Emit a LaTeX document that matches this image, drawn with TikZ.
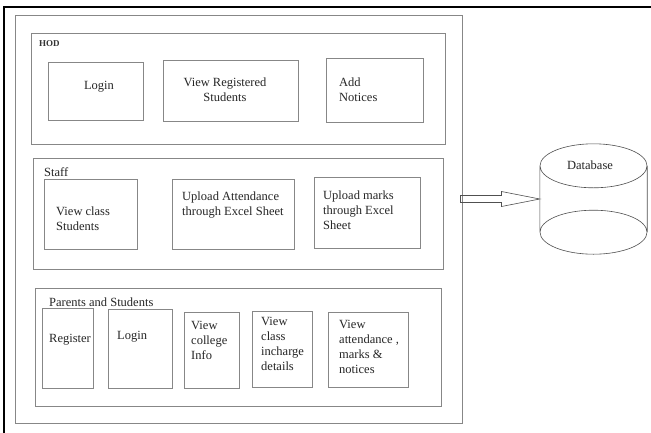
\documentclass[tikz,border=0pt]{standalone}
\usepackage{fontspec}
\setmainfont{Liberation Serif}
\usetikzlibrary{calc}
\definecolor{boxgray}{RGB}{135,135,135}
\definecolor{linegray}{RGB}{80,80,80}
\begin{document}
\begin{tikzpicture}[x=1pt,y=-1pt,
  box/.style={draw=boxgray, line width=1pt, inner sep=0pt},
  lbl/.style={inner sep=0pt, font=\fontsize{12.5}{15}\selectfont, text=black!85},
  lbll/.style={lbl, anchor=west, align=left},
  lblc/.style={lbl, align=center}]
\useasboundingbox (0,0) rectangle (651,432);
\fill[white] (0,0) rectangle (651,432);
% black frame
\draw[line width=2.5pt] (4,440) -- (4,7) -- (660,7);
% outer box
\node[box, minimum width=447pt, minimum height=408pt] (outer) at (238.5,219) {};
% HOD
\node[box, minimum width=414pt, minimum height=111pt] (hod) at (238,88.5) {};
\node[inner sep=0pt, anchor=west, font=\fontsize{9}{10}\selectfont\bfseries, text=black!80] (hodl) at (39,44) {HOD};
\node[box, minimum width=95pt, minimum height=58pt] (hlogin) at (95.5,91) {};
\node[lblc] (hlogint) at (99,87) {Login};
\node[box, minimum width=135pt, minimum height=61pt] (hview) at (230.5,90.5) {};
\node[lblc] (hviewt) at (225,90) {View Registered\\Students};
\node[box, minimum width=97pt, minimum height=64pt] (hadd) at (374.5,90) {};
\node[lbll] (haddt) at (339,90) {Add\\Notices};
% Staff
\node[box, minimum width=410pt, minimum height=111pt] (staff) at (238,213.5) {};
\node[lbll] (staffl) at (44,172) {Staff};
\node[box, minimum width=93pt, minimum height=70pt] (sview) at (90.5,214) {};
\node[lbll] (sviewt) at (56,218.5) {View class\\Students};
\node[box, minimum width=122pt, minimum height=70pt] (satt) at (233,214) {};
\node[lbll] (sattt) at (182,205.5) {Upload Attendance\\through Excel Sheet};
\node[box, minimum width=106pt, minimum height=71pt] (smarks) at (367,212.5) {};
\node[lbll] (smarkst) at (323,210.5) {Upload marks\\through Excel\\Sheet};
% Parents and Students
\node[box, minimum width=406pt, minimum height=118pt] (ps) at (238,347) {};
\node[lbll] (psl) at (49,302) {Parents and Students};
\node[box, minimum width=51pt, minimum height=80pt] (preg) at (67.5,348) {};
\node[lbll] (pregt) at (49,340) {Register};
\node[box, minimum width=64pt, minimum height=79pt] (plogin) at (140,348.5) {};
\node[lbll] (plogint) at (117,337) {Login};
\node[box, minimum width=55pt, minimum height=76pt] (pcol) at (211.5,350) {};
\node[lbll] (pcolt) at (191,340) {View\\college\\Info};
\node[box, minimum width=60pt, minimum height=76pt] (pcls) at (282,349) {};
\node[lbll] (pclst) at (261,344) {View\\class\\incharge\\details};
\node[box, minimum width=80pt, minimum height=75pt] (patt) at (368,349.5) {};
\node[lbll] (pattt) at (339,347) {View\\attendance ,\\marks \&\\notices};
% Database
\node[inner sep=0pt, minimum width=107pt, minimum height=66pt] (db) at (593.5,199) {};
\draw[linegray, line width=0.6pt]
  (db.north) ellipse [x radius=53.5pt, y radius=22pt]
  (db.south) ellipse [x radius=53.5pt, y radius=22pt]
  (db.north west) -- (db.south west)
  (db.north east) -- (db.south east);
\node[lbl] (dbl) at (590,165) {Database};
% arrow
\coordinate (as) at (outer.east |- db.west);
\draw[linegray, line width=0.6pt]
  ($(as)+(-2,-3.5)$) -- ($(as)+(39,-3.5)$) -- ($(as)+(39,-7.5)$) -- (db.west)
  -- ($(as)+(39,7.5)$) -- ($(as)+(39,3.5)$) -- ($(as)+(-2,3.5)$) -- cycle;
\end{tikzpicture}
\end{document}
